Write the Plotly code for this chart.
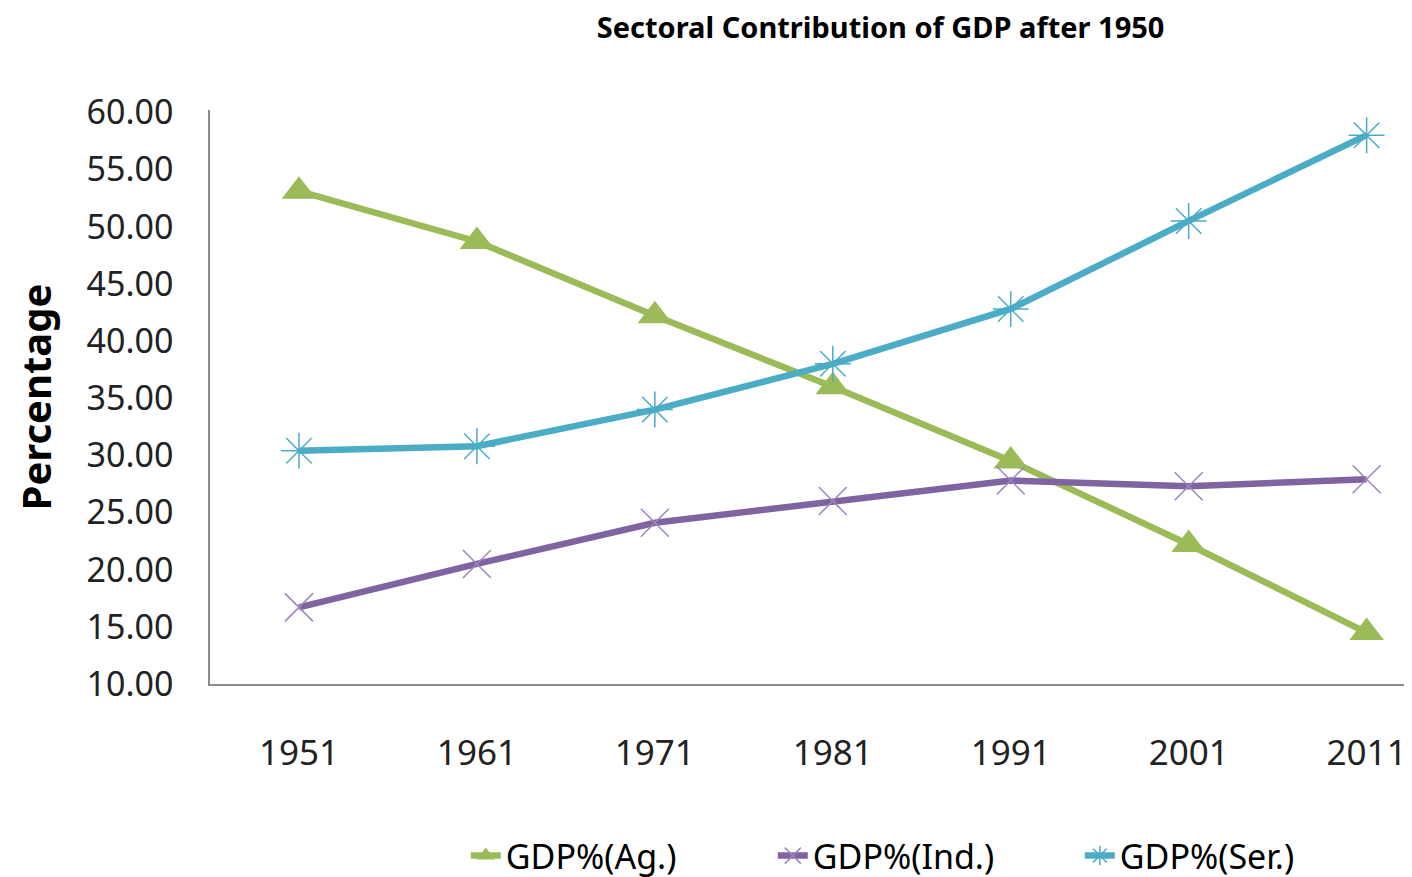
import plotly.graph_objects as go

years = ["1951", "1961", "1971", "1981", "1991", "2001", "2011"]
gdp_ag = [53.1, 48.7, 42.2, 36.0, 29.5, 22.2, 14.5]
gdp_ind = [16.7, 20.5, 24.1, 26.0, 27.8, 27.3, 27.9]
gdp_ser = [30.4, 30.8, 34.0, 38.0, 42.8, 50.5, 58.0]
y_ticks = [10, 15, 20, 25, 30, 35, 40, 45, 50, 55, 60]

FONT = "Noto Sans"

fig = go.Figure()
fig.add_trace(go.Scatter(
    x=years, y=gdp_ag, name="GDP%(Ag.)", mode="lines+markers",
    line=dict(color="#9BBB59", width=6.5),
    marker=dict(symbol="triangle-up", size=30, color="#9BBB59"),
))
fig.add_trace(go.Scatter(
    x=years, y=gdp_ind, name="GDP%(Ind.)", mode="lines+markers",
    line=dict(color="#8064A2", width=6.5),
    marker=dict(symbol="x-thin-open", size=28, color="#9B86BE",
                line=dict(color="#9B86BE", width=1.5)),
))
fig.add_trace(go.Scatter(
    x=years, y=gdp_ser, name="GDP%(Ser.)", mode="lines+markers",
    line=dict(color="#4BACC6", width=6.5),
    marker=dict(symbol="asterisk-open", size=30, color="#4BACC6",
                line=dict(color="#4BACC6", width=1.5)),
))

fig.update_layout(
    width=1412, height=877,
    margin=dict(l=202, r=0, t=102, b=193),
    paper_bgcolor="white", plot_bgcolor="white",
    font=dict(family=FONT, color="#000000"),
    title=dict(text="<b>Sectoral Contribution of GDP after 1950</b>",
               x=0.618, xanchor="center", xref="container",
               y=0.977, yanchor="middle", yref="container",
               font=dict(size=29, family=FONT, color="#000")),
    showlegend=True,
    legend=dict(orientation="h", x=0.592, xanchor="center", y=-0.30, yanchor="middle",
                font=dict(size=34, family=FONT, color="#000"),
                itemsizing="trace", entrywidth=262, bgcolor="rgba(0,0,0,0)"),
    xaxis=dict(
        type="category", range=[-0.5, 6.30],
        showline=True, linecolor="#8C8C8C", linewidth=1.5,
        showgrid=False, zeroline=False,
        ticks="outside", ticklen=37, tickcolor="rgba(0,0,0,0)",
        tickfont=dict(size=35, family=FONT, color="#222"),
    ),
    yaxis=dict(
        range=[10, 60.2], tickvals=y_ticks,
        ticktext=[f"{v:.2f}" for v in y_ticks],
        showline=True, linecolor="#8C8C8C", linewidth=1.5,
        showgrid=False, zeroline=False,
        ticks="outside", ticklen=28, tickcolor="rgba(0,0,0,0)",
        tickfont=dict(size=34, family=FONT, color="#222"),
        title=dict(text="<b>Percentage</b>", standoff=40,
                   font=dict(size=40, family=FONT, color="#000")),
    ),
)

fig.write_html("out.html")
